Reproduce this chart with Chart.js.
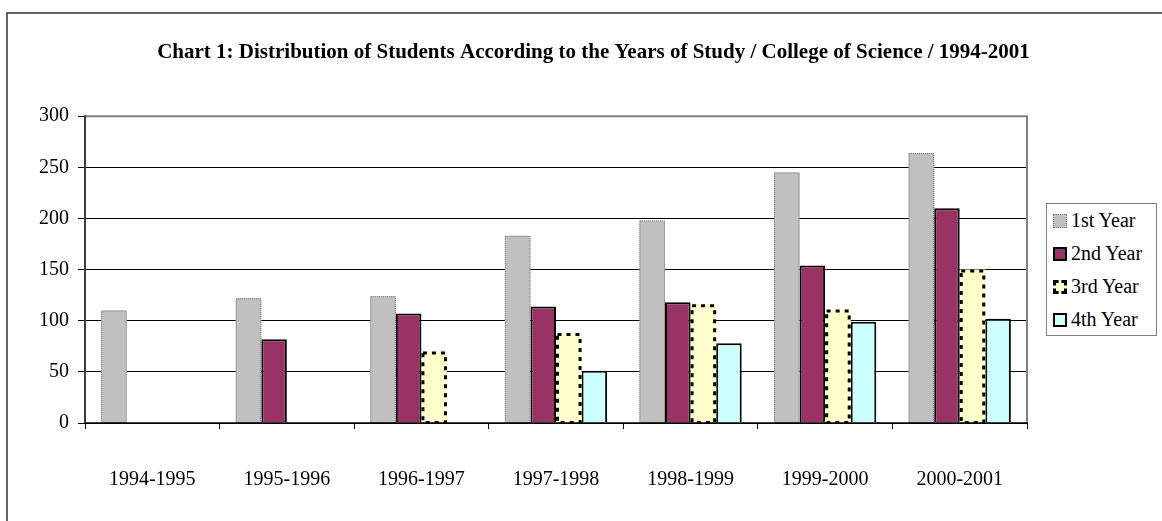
<!DOCTYPE html>
<html>
<head>
<meta charset="utf-8">
<script src="https://cdn.jsdelivr.net/npm/chart.js@4"></script>
<style>
  body { margin: 0; background: #fff; }
  #wrap { position: relative; width: 1162px; height: 521px; }
  #legend {
    position: absolute; left: 1046px; top: 203px; width: 111px; height: 133px;
    border: 1px solid #808080; background: #fff;
    font-family: "Liberation Serif", "Times New Roman", serif; font-size: 20px; color: #000;
    box-sizing: border-box;
  }
  #legend .item { display: flex; align-items: center; height: 33px; padding-left: 6px; }
  #legend .sw { width: 14px; height: 14px; margin-right: 4px; box-sizing: border-box; flex: none; }
</style>
</head>
<body>
<div id="wrap">
  <canvas id="grafico"></canvas>
  <div id="legend"></div>
</div>
<script>
const titulo = "Chart 1: Distribution of Students According to the Years of Study / College of Science / 1994-2001";
const anos = ["1994-1995", "1995-1996", "1996-1997", "1997-1998", "1998-1999", "1999-2000", "2000-2001"];
const series = ["1st Year", "2nd Year", "3rd Year", "4th Year"];
const ano1 = [110, 122, 124, 183, 198, 245, 264];
const ano2 = [null, 82, 107, 114, 118, 154, 210];
const ano3 = [null, null, 70, 88, 116, 111, 150];
const ano4 = [null, null, null, 51, 78, 99, 102];
const yTicks = [0, 50, 100, 150, 200, 250, 300];

const cores = ["#C0C0C0", "#993366", "#FFFFCC", "#CCFFFF"];
const fonte = "'Liberation Serif', 'Times New Roman', serif";

// dashed / dotted outlines (bars do not support borderDash)
const bordasTracejadas = {
  id: "bordasTracejadas",
  afterDatasetsDraw(chart) {
    const ctx = chart.ctx;
    chart.data.datasets.forEach((ds, i) => {
      if (!ds.tracejado) return;
      const meta = chart.getDatasetMeta(i);
      meta.data.forEach((bar, j) => {
        if (ds.data[j] == null) return;
        const p = bar.getProps(["x", "y", "base", "width"], true);
        ctx.save();
        ctx.strokeStyle = ds.tracejado.cor;
        ctx.lineWidth = ds.tracejado.largura;
        ctx.setLineDash(ds.tracejado.dash);
        const w = ds.tracejado.largura / 2;
        ctx.strokeRect(p.x - p.width / 2 + w, p.y + w, p.width - 2 * w, p.base - p.y - w);
        ctx.restore();
      });
    });
  }
};

const moldura = {
  id: "moldura",
  afterLayout(chart) {
    // title centred on the outer frame, not on the padded area
    const t = chart.titleBlock;
    if (t) { t.left = 25; t.right = chart.width; }
  },
  beforeDraw(chart) {
    const ctx = chart.ctx;
    ctx.save();
    ctx.fillStyle = "#fff";
    ctx.fillRect(0, 0, chart.width, chart.height);
    ctx.strokeStyle = "#333";
    ctx.lineWidth = 1.5;
    ctx.beginPath();
    ctx.moveTo(7, chart.height);
    ctx.lineTo(7, 13);
    ctx.lineTo(chart.width, 13);
    ctx.stroke();
    ctx.restore();
  },
  afterDraw(chart) {
    const a = chart.chartArea;
    const ctx = chart.ctx;
    ctx.save();
    ctx.strokeStyle = "#808080";
    ctx.lineWidth = 2;
    ctx.beginPath();
    ctx.moveTo(a.left, a.top);
    ctx.lineTo(a.right, a.top);
    ctx.lineTo(a.right, a.bottom);
    ctx.stroke();
    ctx.strokeStyle = "#404040";
    ctx.beginPath();
    ctx.moveTo(a.left, a.top - 1);
    ctx.lineTo(a.left, a.bottom);
    ctx.stroke();
    ctx.strokeStyle = "#000";
    ctx.lineWidth = 1.5;
    ctx.beginPath();
    ctx.moveTo(a.left, a.bottom);
    ctx.lineTo(a.right, a.bottom);
    ctx.stroke();
    ctx.restore();
  }
};

new Chart(document.getElementById("grafico").getContext("2d"), {
  type: "bar",
  data: {
    labels: anos,
    datasets: [
      { label: series[0], data: ano1, backgroundColor: cores[0], borderWidth: 0,
        tracejado: { cor: "#777", largura: 1, dash: [1, 1] } },
      { label: series[1], data: ano2, backgroundColor: cores[1], borderColor: "#000", borderWidth: 2 },
      { label: series[2], data: ano3, backgroundColor: cores[2], borderWidth: 0,
        tracejado: { cor: "#000", largura: 3, dash: [4, 5] } },
      { label: series[3], data: ano4, backgroundColor: cores[3], borderColor: "#000", borderWidth: 2 }
    ]
  },
  options: {
    responsive: true,
    maintainAspectRatio: false,
    animation: false,
    layout: { padding: { left: 0, right: 135, top: 0, bottom: 0 } },
    datasets: { bar: { categoryPercentage: 0.76, barPercentage: 1 } },
    plugins: {
      legend: { display: false },
      tooltip: { enabled: false },
      title: {
        display: true,
        text: titulo,
        color: "#000",
        font: { family: fonte, size: 21, weight: "bold" },
        padding: { top: 40, bottom: 51 }
      }
    },
    scales: {
      x: {
        grid: { offset: true, drawOnChartArea: false, color: "#000", tickLength: 6 },
        border: { display: false },
        ticks: { color: "#000", font: { family: fonte, size: 20 }, padding: 39, maxRotation: 0 },
        afterFit: (s) => { s.height = 98; }
      },
      y: {
        min: 0,
        max: 300,
        afterBuildTicks: (s) => { s.ticks = yTicks.map((v) => ({ value: v })); },
        grid: {
          color: (c) => (c.tick && c.tick.value === 300 ? "#808080" : "#000"),
          tickColor: "#000",
          tickLength: 7
        },
        border: { display: false },
        ticks: { color: "#000", font: { family: fonte, size: 20 }, padding: 9 },
        afterFit: (s) => { s.width = 85; }
      }
    }
  },
  plugins: [moldura, bordasTracejadas]
});

// legend
const legendEl = document.getElementById("legend");
const estilosLegenda = [
  "background:" + cores[0] + ";border:1px dotted #777;",
  "background:" + cores[1] + ";border:2px solid #000;",
  "background:" + cores[2] + ";border:3px dashed #000;",
  "background:" + cores[3] + ";border:2px solid #000;"
];
series.forEach((s, i) => {
  const item = document.createElement("div");
  item.className = "item";
  item.innerHTML = '<span class="sw" style="' + estilosLegenda[i] + '"></span><span>' + s + "</span>";
  legendEl.appendChild(item);
});
</script>
</body>
</html>
